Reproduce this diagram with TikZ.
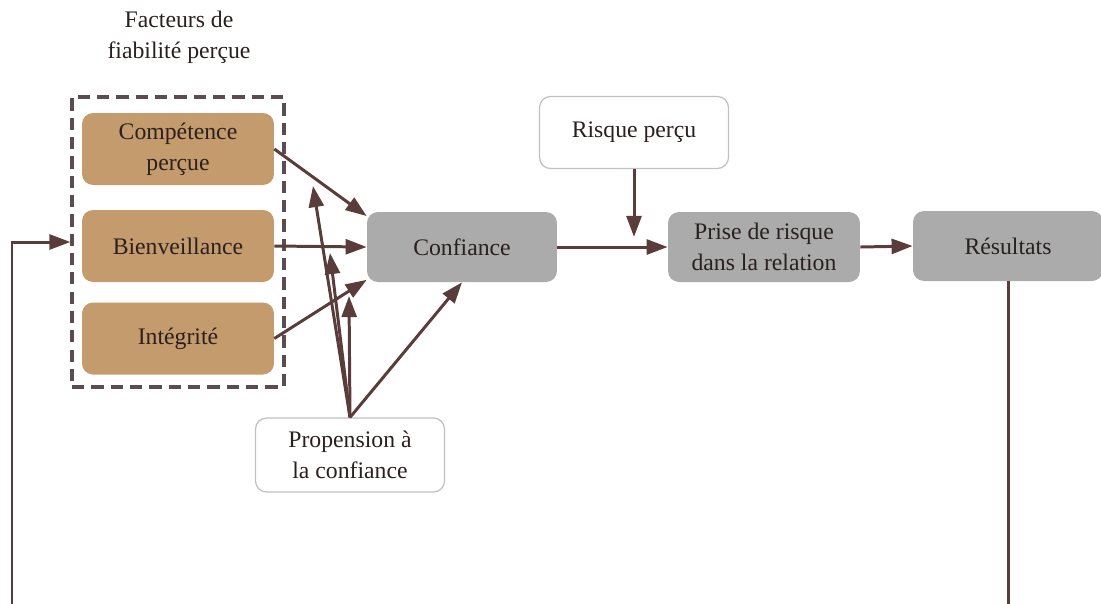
\documentclass[tikz,border=0pt]{standalone}
\usepackage{fontspec}
\setmainfont{Liberation Serif}
\usetikzlibrary{arrows.meta}
\definecolor{mytan}{HTML}{C49B6C}
\definecolor{mygray}{HTML}{ABABAB}
\definecolor{mybrown}{HTML}{5A3D3A}
\definecolor{mydash}{HTML}{5B4D4F}
\definecolor{myedge}{HTML}{C0C0C0}
\definecolor{mytext}{HTML}{2B2020}

\begin{document}
\begin{tikzpicture}[x=0.02cm, y=-0.02cm, >={Triangle[length=12pt,width=8.5pt]},
	every node/.style={font=\fontsize{13.5}{17.5}\selectfont, text=mytext, align=center},
	factor/.style={rounded corners=0.22cm, fill=mytan, minimum width=3.84cm, minimum height=1.44cm, inner sep=0pt},
	block/.style={rounded corners=0.22cm, fill=mygray, minimum width=3.8cm, minimum height=1.4cm, inner sep=0pt},
	extbox/.style={rounded corners=0.22cm, draw=myedge, line width=0.7pt, fill=white, minimum width=3.78cm, minimum height=1.44cm, inner sep=0pt},
	dashbox/.style={draw=mydash, line width=1.8pt, dash pattern=on 7pt off 4pt, minimum width=4.24cm, minimum height=5.8cm, inner sep=0pt},
	link/.style={->, draw=mybrown, line width=1.7pt}]
			\useasboundingbox (0,0) rectangle (1101,603);
			
			% Draw the perceived trustworthiness factors
			\node (title) at (179,37) {Facteurs de\\fiabilité perçue};
			\node[dashbox] (fact) at (178,242) {};
			\node[factor] (comp) at (178,149) {Compétence\\perçue};
			\node[factor] (bien) at (178,246) {Bienveillance};
			\node[factor] (integ) at (178,338.5) {Intégrité};
			
			% Draw the main chain
			\node[block] (conf) at (462,247) {Confiance};
			\node[block, minimum width=3.84cm] (prise) at (764,247) {Prise de risque\\dans la relation};
			\node[block, minimum width=3.8cm] (resu) at (1008,246) {Résultats};
			\node[extbox] (risque) at (634,132.5) {Risque perçu};
			\node[extbox, minimum height=1.48cm] (prop) at (350,455) {Propension à\\la confiance};
			
			% Free ends of the moderating arrows
			\coordinate (m1) at (313,186);
			\coordinate (m2) at (330,253);
			\coordinate (m3) at (349,296);
			\coordinate (rk) at (634,237);
			\coordinate (fbl) at (12,640);
			
			% Draw the arrows
			\draw[link] (comp.east) -- (conf.162);
			\draw[link] (bien.east) -- (conf.west);
			\draw[link] (integ.east) -- (conf.199);
			\draw[link] (prop.north) -- (m1);
			\draw[link] (prop.north) -- (m2);
			\draw[link] (prop.north) -- (m3);
			\draw[link] (prop.north) -- (conf.south);
			\draw[link] (conf.east) -- (prise.west);
			\draw[link] (risque.south) -- (rk);
			\draw[link] (prise.east) -- (resu.west);
			
			% Feedback loop
			\draw[link] (resu.south) |- (fbl) |- (fact.west);
\end{tikzpicture}
\end{document}
